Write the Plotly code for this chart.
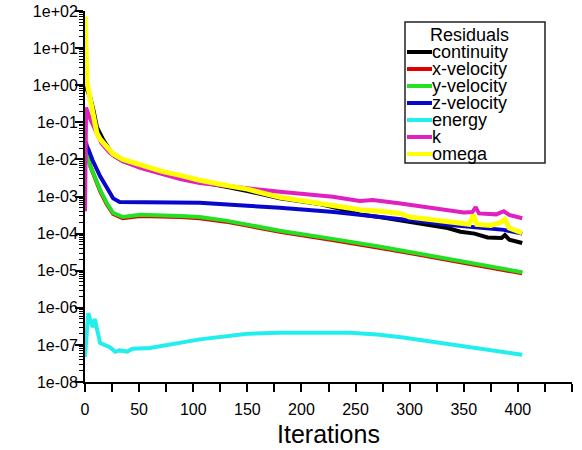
import plotly.graph_objects as go

# ---------------- data ----------------
series_names = ["continuity", "x-velocity", "y-velocity", "z-velocity", "energy", "k", "omega"]
series_colors = ["#000000", "#e00000", "#22e022", "#0808cc", "#22eeee", "#e020c0", "#ffff00"]
series_widths = [4, 4, 4, 4, 4, 4, 5]

continuity_iter = [0, 5, 8, 11, 17, 22, 26, 35, 51, 72, 88, 106, 134, 150, 180, 217, 235, 254, 275,
                   300, 320, 335, 347, 360, 372, 385, 388, 392, 404]
continuity_res = [1.0, 0.45, 0.2, 0.074, 0.033, 0.02, 0.013, 8.9e-3, 6.3e-3, 4.2e-3, 3.3e-3, 2.5e-3,
                  1.74e-3, 1.41e-3, 8.9e-4, 6.3e-4, 4.7e-4, 3.3e-4, 2.7e-4, 2.1e-4, 1.74e-4, 1.41e-4,
                  1.12e-4, 1.0e-4, 7.9e-5, 7.6e-5, 9.1e-5, 6.9e-5, 5.6e-5]

xvel_iter = [1, 3, 5, 9, 14, 20, 26, 35, 44, 51, 88, 106, 130, 180, 230, 254, 273, 300, 328, 350, 375, 404]
xvel_res = [0.03, 0.011, 6.5e-3, 3.3e-3, 1.4e-3, 6.3e-4, 3.4e-4, 2.6e-4, 2.8e-4, 3.0e-4, 2.8e-4, 2.6e-4,
            2.1e-4, 1.12e-4, 6.6e-5, 5.2e-5, 4.1e-5, 3.0e-5, 2.15e-5, 1.66e-5, 1.23e-5, 8.5e-6]

yvel_iter = [1, 3, 5, 9, 14, 20, 26, 35, 44, 51, 88, 106, 130, 180, 230, 254, 273, 300, 328, 350, 375, 404]
yvel_res = [0.016, 0.01, 6.3e-3, 3.4e-3, 1.5e-3, 6.8e-4, 3.6e-4, 2.8e-4, 3.0e-4, 3.2e-4, 3.0e-4, 2.8e-4,
            2.24e-4, 1.2e-4, 7.1e-5, 5.6e-5, 4.4e-5, 3.2e-5, 2.3e-5, 1.78e-5, 1.32e-5, 9.1e-6]

zvel_iter = [1, 3, 7, 10, 14, 20, 23, 26, 32, 51, 106, 150, 180, 230, 254, 273, 291, 300, 320, 335,
             350, 375, 387, 404]
zvel_res = [0.025, 0.019, 9.5e-3, 6.3e-3, 3.5e-3, 1.78e-3, 1.26e-3, 8.9e-4, 7.1e-4, 7.1e-4, 6.8e-4,
            5.6e-4, 5.0e-4, 3.8e-4, 3.2e-4, 2.8e-4, 2.5e-4, 2.4e-4, 2.0e-4, 1.74e-4, 1.58e-4, 1.32e-4,
            1.26e-4, 1.0e-4]

energy_iter = [0, 1, 3, 5, 7, 9, 11, 14, 18, 23, 28, 32, 39, 44, 60, 88, 106, 150, 180, 245, 270, 294,
               330, 356, 404]
energy_res = [4.7e-8, 1.0e-7, 7.2e-7, 4.5e-7, 3.0e-7, 5.0e-7, 2.8e-7, 1.12e-7, 1.0e-7, 8.7e-8, 6.5e-8,
              7.1e-8, 6.6e-8, 7.9e-8, 8.3e-8, 1.12e-7, 1.41e-7, 2.0e-7, 2.14e-7, 2.14e-7, 1.9e-7,
              1.58e-7, 1.12e-7, 8.7e-8, 5.4e-8]

k_iter = [0, 1, 4, 8, 11, 15, 23, 35, 51, 72, 88, 106, 134, 150, 180, 229, 254, 266, 290, 322, 350,
          358, 361, 364, 380, 387, 392, 404]
k_res = [4.0e-4, 0.25, 0.14, 0.079, 0.05, 0.028, 0.0148, 8.9e-3, 5.9e-3, 4.0e-3, 2.95e-3, 2.3e-3,
         1.82e-3, 1.66e-3, 1.35e-3, 9.8e-4, 7.6e-4, 8.1e-4, 6.6e-4, 4.9e-4, 3.7e-4, 3.8e-4, 5.2e-4,
         3.5e-4, 3.3e-4, 4.0e-4, 3.2e-4, 2.6e-4]

omega_iter = [0, 1, 2, 5, 8, 11, 14, 20, 26, 35, 51, 72, 88, 106, 134, 150, 180, 227, 254, 273, 291,
              300, 320, 331, 345, 355, 359, 362, 375, 384, 388, 392, 404]
omega_res = [71, 10, 1.15, 0.4, 0.14, 0.051, 0.035, 0.021, 0.014, 0.01, 7.1e-3, 4.7e-3, 3.7e-3,
             2.75e-3, 1.9e-3, 1.58e-3, 9.5e-4, 5.6e-4, 4.4e-4, 4.0e-4, 3.5e-4, 2.8e-4, 2.4e-4, 2.1e-4,
             1.9e-4, 1.78e-4, 3.2e-4, 1.78e-4, 1.66e-4, 2.0e-4, 2.4e-4, 1.41e-4, 1.05e-4]

y_tickvals = [1e-8, 1e-7, 1e-6, 1e-5, 1e-4, 1e-3, 1e-2, 1e-1, 1e0, 1e1, 1e2]
y_ticktext = ["1e-08", "1e-07", "1e-06", "1e-05", "1e-04", "1e-03", "1e-02", "1e-01",
              "1e+00", "1e+01", "1e+02"]
x_title = "Iterations"
legend_title = "Residuals"

all_iters = [continuity_iter, xvel_iter, yvel_iter, zvel_iter, energy_iter, k_iter, omega_iter]
all_res = [continuity_res, xvel_res, yvel_res, zvel_res, energy_res, k_res, omega_res]

# ---------------- figure ----------------
FONT = "Liberation Sans, Arial, sans-serif"
fig = go.Figure()
for name, col, w, xs, ys in zip(series_names, series_colors, series_widths, all_iters, all_res):
    fig.add_trace(go.Scatter(x=xs, y=ys, mode="lines", name=name,
                             line=dict(color=col, width=w), showlegend=False))

# plot area in pixels: left 85, right 572, top 11, bottom 382
L, R, T, B = 85, 572, 11, 382


def px(xp):
    return (xp - L) / (R - L)


def py(yp):
    return (B - yp) / (B - T)


shapes = [dict(type="rect", xref="paper", yref="paper", x0=px(405), x1=px(545), y0=py(163), y1=py(22),
               line=dict(color="#222222", width=1.5), fillcolor="white", layer="above")]
annotations = [dict(text=legend_title, xref="paper", yref="paper", x=px(469), y=py(35),
                    xanchor="center", yanchor="middle", showarrow=False, borderpad=0,
                    font=dict(family=FONT, size=18, color="black"))]
for i, (name, col) in enumerate(zip(series_names, series_colors)):
    yc = 52 + 17 * i
    shapes.append(dict(type="line", xref="paper", yref="paper", x0=px(407), x1=px(432),
                       y0=py(yc), y1=py(yc), line=dict(color=col, width=4), layer="above"))
    annotations.append(dict(text=name, xref="paper", yref="paper", x=px(431), y=py(yc),
                            xanchor="left", yanchor="middle", showarrow=False, borderpad=0,
                            font=dict(family=FONT, size=18, color="black")))

fig.update_layout(
    width=582, height=450,
    margin=dict(l=L, r=582 - R, t=T, b=450 - B),
    paper_bgcolor="white", plot_bgcolor="white",
    font=dict(family=FONT, size=16, color="black"),
    shapes=shapes, annotations=annotations,
    showlegend=False,
)
fig.update_xaxes(range=[0, 450], dtick=50, tick0=0, showgrid=False, zeroline=False, automargin=False,
                 showline=True, linecolor="black", linewidth=2,
                 ticks="outside", ticklen=8, tickwidth=1.5, tickcolor="black",
                 minor=dict(dtick=25, ticks="outside", ticklen=8, tickwidth=1.5, tickcolor="black"),
                 tickfont=dict(family=FONT, size=16), ticklabelstandoff=4,
                 title=dict(text=x_title, font=dict(family=FONT, size=25), standoff=8))
fig.update_yaxes(type="log", range=[-8, 2], tickmode="array", tickvals=y_tickvals, ticktext=y_ticktext,
                 showgrid=False, zeroline=False, automargin=False,
                 showline=True, linecolor="black", linewidth=2,
                 ticks="outside", ticklen=8, tickwidth=1.5, tickcolor="black",
                 minor=dict(dtick="D1", ticks="outside", ticklen=4, tickwidth=1, tickcolor="black"),
                 tickfont=dict(family=FONT, size=16), ticklabelstandoff=-6)

fig.write_html("out.html", config={"displayModeBar": False},
               post_script="document.body.style.margin='0';document.body.style.overflow='hidden';")
